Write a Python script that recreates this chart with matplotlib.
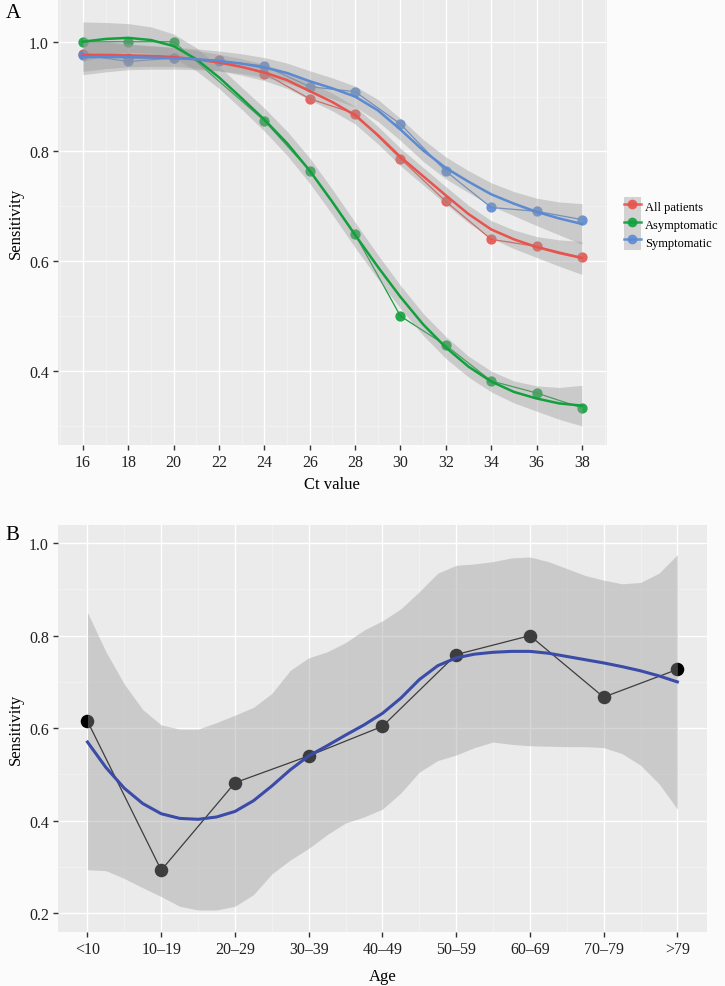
import numpy as np
import matplotlib
matplotlib.use("Agg")
import matplotlib.pyplot as plt
from matplotlib.lines import Line2D
from matplotlib.patches import Patch
from matplotlib.legend_handler import HandlerTuple
from matplotlib.ticker import MultipleLocator, FixedLocator

plt.rcParams['font.family'] = ['Liberation Serif', 'DejaVu Serif']

# ==================== Panel A data ====================
ct = [16, 18, 20, 22, 24, 26, 28, 30, 32, 34, 36, 38]
sens_all = [0.978, 0.970, 0.971, 0.966, 0.942, 0.896, 0.869, 0.787, 0.709, 0.640, 0.627, 0.607]
sens_asym = [1.000, 1.000, 1.000, np.nan, 0.856, 0.765, 0.649, 0.500, 0.447, 0.382, 0.360, 0.333]
sens_sym = [0.976, 0.964, 0.970, 0.965, 0.956, 0.918, 0.909, 0.850, 0.764, 0.698, 0.691, 0.676]

# loess fits and confidence half-widths
ct_fit = list(range(16, 39))
fit_all = [0.976, 0.976, 0.975, 0.974, 0.972, 0.968, 0.962, 0.954, 0.944, 0.930, 0.910, 0.890,
           0.866, 0.830, 0.790, 0.755, 0.720, 0.686, 0.658, 0.640, 0.626, 0.615, 0.606]
hw_all = [0.030, 0.025, 0.021, 0.019, 0.017, 0.016, 0.015, 0.015, 0.015, 0.015, 0.016, 0.016,
          0.016, 0.016, 0.016, 0.016, 0.016, 0.016, 0.016, 0.017, 0.019, 0.024, 0.030]
fit_asym = [1.000, 1.005, 1.007, 1.003, 0.992, 0.968, 0.935, 0.897, 0.858, 0.815, 0.765, 0.708,
            0.648, 0.590, 0.535, 0.485, 0.443, 0.408, 0.381, 0.362, 0.350, 0.341, 0.337]
hw_asym = [0.036, 0.030, 0.026, 0.024, 0.022, 0.021, 0.020, 0.020, 0.021, 0.022, 0.023, 0.023,
           0.023, 0.022, 0.021, 0.020, 0.020, 0.019, 0.019, 0.020, 0.023, 0.029, 0.037]
fit_sym = [0.972, 0.972, 0.972, 0.971, 0.970, 0.968, 0.965, 0.960, 0.953, 0.943, 0.928, 0.915,
           0.900, 0.875, 0.840, 0.802, 0.770, 0.745, 0.722, 0.705, 0.690, 0.678, 0.668]
hw_sym = [0.032, 0.027, 0.023, 0.021, 0.020, 0.019, 0.018, 0.018, 0.018, 0.018, 0.019, 0.019,
          0.019, 0.020, 0.020, 0.020, 0.020, 0.020, 0.021, 0.022, 0.025, 0.030, 0.037]

groups = ['All patients', 'Asymptomatic', 'Symptomatic']
colors = ['#E8534D', '#12A03C', '#5B8AD2']

# ==================== Panel B data ====================
age_labels = ['<10', '10–19', '20–29', '30–39', '40–49', '50–59', '60–69', '70–79', '>79']
sens_age = [0.615, 0.293, 0.482, 0.540, 0.604, 0.759, 0.800, 0.667, 0.727]

# loess fit and band, read every quarter category
age_fit_x = [1.0, 1.25, 1.5, 1.75, 2.0, 2.25, 2.5, 2.75, 3.0, 3.25, 3.5, 3.75, 4.0, 4.25,
             4.5, 4.75, 5.0, 5.25, 5.5, 5.75, 6.0, 6.25, 6.5, 6.75, 7.0, 7.25, 7.5, 7.75,
             8.0, 8.25, 8.5, 8.75, 9.0]
age_fit = [0.570, 0.515, 0.470, 0.437, 0.415, 0.405, 0.403, 0.408, 0.420, 0.443, 0.475,
           0.510, 0.540, 0.562, 0.585, 0.607, 0.632, 0.665, 0.705, 0.735, 0.752, 0.760,
           0.764, 0.766, 0.766, 0.762, 0.755, 0.748, 0.741, 0.733, 0.724, 0.713, 0.700]
age_upper = [0.850, 0.765, 0.695, 0.640, 0.607, 0.598, 0.598, 0.612, 0.628, 0.645, 0.675,
             0.725, 0.752, 0.765, 0.785, 0.812, 0.832, 0.858, 0.895, 0.935, 0.952, 0.955,
             0.960, 0.968, 0.970, 0.960, 0.945, 0.930, 0.920, 0.912, 0.915, 0.935, 0.975]
age_lower = [0.294, 0.292, 0.275, 0.255, 0.236, 0.215, 0.207, 0.207, 0.215, 0.240, 0.285,
             0.315, 0.340, 0.370, 0.395, 0.408, 0.425, 0.460, 0.505, 0.530, 0.542, 0.558,
             0.570, 0.565, 0.562, 0.561, 0.560, 0.560, 0.558, 0.545, 0.520, 0.480, 0.425]

# ==================== figure ====================
fig = plt.figure(figsize=(7.25, 9.87), dpi=100, facecolor='#FBFBFB')
axA = fig.add_axes([0.080, 0.548, 0.757, 0.451])
axB = fig.add_axes([0.080, 0.055, 0.895, 0.412])


def style_axes(ax):
    ax.set_facecolor('#EBEBEB')
    for s in ax.spines.values():
        s.set_visible(False)
    ax.grid(which='major', color='white', linewidth=1.0)
    ax.grid(which='minor', color='#F5F5F5', linewidth=0.5)
    ax.set_axisbelow(True)
    ax.tick_params(which='major', length=3.5, width=1.0, color='#333333',
                   labelsize=11.5, labelcolor='#222222', pad=3)
    ax.tick_params(which='minor', length=0)


# ---------- Panel A ----------
style_axes(axA)
ct_arr = np.array(ct)
for vals, fit, hw, col, lab in zip([sens_all, sens_asym, sens_sym],
                                   [fit_all, fit_asym, fit_sym],
                                   [hw_all, hw_asym, hw_sym], colors, groups):
    v = np.array(vals)
    ok = ~np.isnan(v)
    axA.plot(ct_arr[ok], v[ok], color=col, linewidth=0.9, zorder=2)
    axA.scatter(ct_arr[ok], v[ok], s=55, color=col, alpha=0.9, linewidths=0, zorder=2)
    f = np.array(fit)
    h = np.array(hw)
    axA.fill_between(ct_fit, f - h, f + h, color='#999999', alpha=0.4, linewidth=0, zorder=3)
    axA.plot(ct_fit, f, color=col, linewidth=1.8, zorder=4)

axA.set_xlim(14.9, 39.1)
axA.set_ylim(0.265, 1.076)
axA.xaxis.set_major_locator(FixedLocator(ct))
axA.xaxis.set_minor_locator(MultipleLocator(1))
axA.yaxis.set_major_locator(FixedLocator([0.4, 0.6, 0.8, 1.0]))
axA.yaxis.set_minor_locator(FixedLocator([0.3, 0.5, 0.7, 0.9]))
axA.set_yticklabels(['0.4', '0.6', '0.8', '1.0'])
axA.set_xlabel('Ct value', fontsize=12, labelpad=4)
axA.set_ylabel('Sensitivity', fontsize=12, labelpad=4)

handles = [(Patch(facecolor='#D2D2D2', edgecolor='none'),
            Line2D([0], [0], color=c, linewidth=1.8, marker='o', markersize=7,
                   markeredgewidth=0, alpha=0.9)) for c in colors]
fig.legend(handles, groups, loc='upper left', bbox_to_anchor=(0.860, 0.799),
           frameon=False, fontsize=9, handlelength=1.4, handleheight=1.8,
           handletextpad=0.3, labelspacing=0.0, borderpad=0, borderaxespad=0,
           handler_map={tuple: HandlerTuple(ndivide=1, pad=0)})

fig.text(0.008, 0.986, 'A', fontsize=15, va='center', ha='left')

# ---------- Panel B ----------
style_axes(axB)
pos = np.arange(1, len(age_labels) + 1)
axB.plot(pos, sens_age, color='black', linewidth=0.9, zorder=2)
axB.scatter(pos, sens_age, s=95, color='black', linewidths=0, zorder=2)
axB.fill_between(age_fit_x, age_lower, age_upper, color='#999999', alpha=0.4,
                 linewidth=0, zorder=3)
axB.plot(age_fit_x, age_fit, color='#3B4BA8', linewidth=2.2, zorder=4)

axB.set_xlim(0.6, 9.4)
axB.set_ylim(0.16, 1.039)
axB.xaxis.set_major_locator(FixedLocator(pos))
axB.xaxis.set_minor_locator(FixedLocator(pos[:-1] + 0.5))
axB.set_xticklabels(age_labels)
axB.yaxis.set_major_locator(FixedLocator([0.2, 0.4, 0.6, 0.8, 1.0]))
axB.yaxis.set_minor_locator(FixedLocator([0.3, 0.5, 0.7, 0.9]))
axB.set_yticklabels(['0.2', '0.4', '0.6', '0.8', '1.0'])
axB.set_xlabel('Age', fontsize=12, labelpad=8)
axB.set_ylabel('Sensitivity', fontsize=12, labelpad=4)

fig.text(0.008, 0.457, 'B', fontsize=15, va='center', ha='left')

fig.savefig('out.png', dpi=100, facecolor=fig.get_facecolor())
plt.close(fig)
